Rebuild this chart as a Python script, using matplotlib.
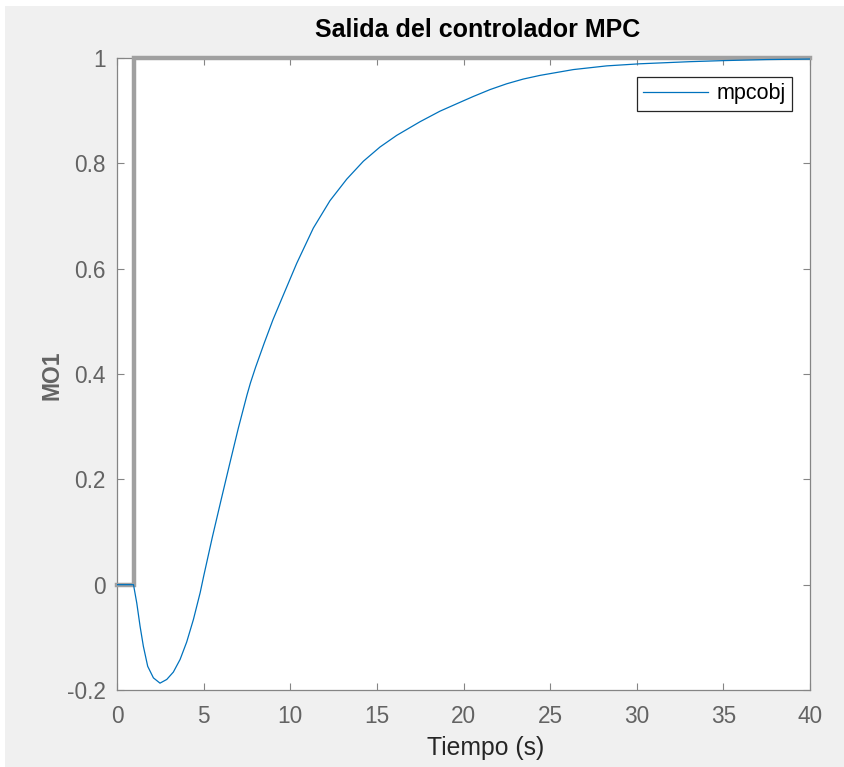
import numpy as np
import matplotlib
matplotlib.use('Agg')
import matplotlib.pyplot as plt
from matplotlib.patches import Rectangle

plt.rcParams['font.family'] = ['Liberation Sans', 'DejaVu Sans']

# referencia (escalon)
t_ref = [0, 1, 1, 40]
y_ref = [0, 0, 1, 1]

# salida del controlador
t_mpc = [0, 0.95, 1.14, 1.33, 1.52, 1.77, 2.10, 2.48, 2.87, 3.25, 3.64, 4.02, 4.41,
         4.80, 5.0, 5.5, 6.0, 6.5, 7.0, 7.5, 7.7, 8.0, 8.5, 9.0, 9.6,
         10.37, 11.33, 12.29, 13.26, 14.22, 15.18, 16.14, 17.49, 18.64, 19.6, 20.57,
         21.53, 22.49, 23.45, 24.42, 26.34, 28.26, 30.19, 33.07, 35.0, 37.5, 40.0]
y_mpc = [0, 0, -0.035, -0.079, -0.117, -0.155, -0.177, -0.187, -0.180, -0.166,
         -0.142, -0.109, -0.066, -0.015, 0.016, 0.090, 0.160, 0.229, 0.297, 0.360,
         0.383, 0.413, 0.459, 0.503, 0.550, 0.610, 0.677, 0.729, 0.770, 0.804, 0.831,
         0.853, 0.879, 0.899, 0.913, 0.927, 0.940, 0.951, 0.960, 0.967, 0.978, 0.985,
         0.989, 0.993, 0.995, 0.997, 0.998]

xticks = [0, 5, 10, 15, 20, 25, 30, 35, 40]
yticks = [-0.2, 0, 0.2, 0.4, 0.6, 0.8, 1]
yticklabels = ['-0.2', '0', '0.2', '0.4', '0.6', '0.8', '1']

fig = plt.figure(figsize=(8.45, 7.67), dpi=100, facecolor='#f0f0f0')
# borde blanco arriba / izquierda de la captura
fig.patches.append(Rectangle((0, 1 - 6 / 767), 1, 6 / 767, transform=fig.transFigure,
                             facecolor='white', edgecolor='none', zorder=-1))
fig.patches.append(Rectangle((0, 0), 5 / 845, 1, transform=fig.transFigure,
                             facecolor='white', edgecolor='none', zorder=-1))

ax = fig.add_axes([0.1385, 0.1004, 0.8201, 0.824])
ax.set_facecolor('white')

ax.plot(t_ref, y_ref, color='#a0a0a0', lw=3.2, solid_joinstyle='miter',
        clip_on=False, zorder=3)
ax.plot(t_mpc, y_mpc, color='#0072bd', lw=0.9, label='mpcobj', zorder=4)

ax.set_xlim(0, 40)
ax.set_ylim(-0.2, 1)
ax.set_xticks(xticks)
ax.set_yticks(yticks)
ax.set_yticklabels(yticklabels)

tick_col = '#636363'
for s in ax.spines.values():
    s.set_color('#858585')
    s.set_linewidth(0.9)
ax.tick_params(direction='in', length=5, width=0.8, color='#858585',
               labelcolor=tick_col, labelsize=16.3, top=True, right=True)
ax.tick_params(axis='x', pad=11)
ax.tick_params(axis='y', pad=8)

leg = ax.legend(loc='upper right', bbox_to_anchor=(0.974, 0.970), fontsize=15.5,
                fancybox=False, framealpha=1, edgecolor='#262626', borderaxespad=0,
                handlelength=3.0, borderpad=0.3, handletextpad=0.4)
leg.get_frame().set_linewidth(0.9)

fig.text(478 / 845, 1 - 30 / 767, 'Salida del controlador MPC', ha='center', va='center',
         fontsize=18, fontweight='bold', color='#000000')
fig.text(486 / 845, 1 - 748 / 767, 'Tiempo (s)', ha='center', va='center',
         fontsize=17.8, color='#262626')
fig.text(52 / 845, 1 - 375 / 767, 'MO1', ha='center', va='center', rotation=90,
         fontsize=16.5, fontweight='bold', color=tick_col)

fig.savefig('out.png', dpi=100, facecolor=fig.get_facecolor())
